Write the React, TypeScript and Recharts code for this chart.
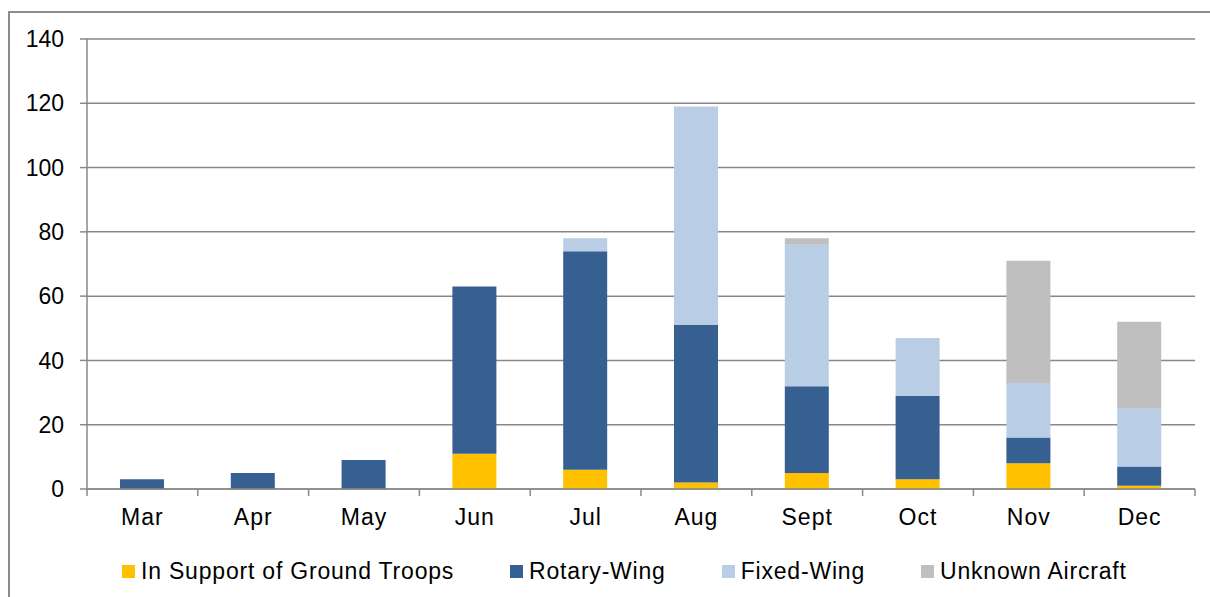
import React from 'react';
import { BarChart, Bar, XAxis, YAxis, CartesianGrid, Legend } from 'recharts';

const months = ['Mar', 'Apr', 'May', 'Jun', 'Jul', 'Aug', 'Sept', 'Oct', 'Nov', 'Dec'];
const groundSupport = [0, 0, 0, 11, 6, 2, 5, 3, 8, 1];
const rotaryWing = [3, 5, 9, 52, 68, 49, 27, 26, 8, 6];
const fixedWing = [0, 0, 0, 0, 4, 68, 44, 18, 17, 18];
const unknownAircraft = [0, 0, 0, 0, 0, 0, 2, 0, 38, 27];
const yTicks = [0, 20, 40, 60, 80, 100, 120, 140];

const seriesKeys = ['ground', 'rotary', 'fixed', 'unknown'];
const seriesNames = ['In Support of Ground Troops', 'Rotary-Wing', 'Fixed-Wing', 'Unknown Aircraft'];
const seriesColors = ['#FFC000', '#376092', '#B9CDE5', '#BFBFBF'];

const data = months.map((m, i) => ({
  month: m,
  ground: groundSupport[i],
  rotary: rotaryWing[i],
  fixed: fixedWing[i],
  unknown: unknownAircraft[i],
}));

const FONT = '"Liberation Sans", Arial, sans-serif';
const AXIS = '#888888';
const FS = 23;

const XTick = (props: any) => {
  const { x, y, payload, index, visibleTicksCount } = props;
  const half = payload && payload.offset ? payload.offset : 0;
  const axisY = y - 20;
  return (
    <g>
      <line x1={x - half} x2={x - half} y1={axisY} y2={axisY + 7} stroke={AXIS} strokeWidth={1.5} />
      {index === visibleTicksCount - 1 && (
        <line x1={x + half} x2={x + half} y1={axisY} y2={axisY + 7} stroke={AXIS} strokeWidth={1.5} />
      )}
      <text x={x} y={y} dy="0.71em" textAnchor="middle" fill="#000" fontSize={FS} fontFamily={FONT} letterSpacing={1}>
        {payload.value}
      </text>
    </g>
  );
};

const LegendContent = (props: any) => {
  const items = [...(props.payload || [])].sort(
    (a: any, b: any) => seriesNames.indexOf(a.value) - seriesNames.indexOf(b.value)
  );
  return (
    <div style={{ display: 'flex', alignItems: 'center', height: 40, paddingLeft: 112, fontFamily: FONT, fontSize: FS, color: '#000' }}>
      {items.map((it: any, i: number) => (
        <div key={i} style={{ display: 'flex', alignItems: 'center', marginRight: 56 }}>
          <span style={{ display: 'inline-block', width: 13, height: 13, background: it.color, marginRight: 6 }} />
          <span style={{ whiteSpace: 'nowrap', letterSpacing: 0.8 }}>{it.value}</span>
        </div>
      ))}
    </div>
  );
};

export default function App() {
  return (
    <div
      style={{
        position: 'fixed',
        left: 8,
        top: 11,
        width: 1200,
        height: 584,
        borderTop: '2px solid #8c8c8c',
        borderLeft: '2px solid #8c8c8c',
        background: '#fff',
      }}
    >
      <BarChart width={1200} height={584} data={data} margin={{ top: 26, right: 15, left: 0, bottom: 18 }}>
        <CartesianGrid vertical={false} stroke={AXIS} strokeWidth={1.5} />
        <XAxis
          dataKey="month"
          tickLine={false}
          axisLine={{ stroke: AXIS, strokeWidth: 1.5 }}
          tickSize={7}
          tickMargin={13}
          height={50}
          interval={0}
          tick={<XTick />}
        />
        <YAxis
          domain={[0, 140]}
          ticks={yTicks}
          width={77}
          tickSize={7}
          tickMargin={16}
          tickLine={{ stroke: AXIS, strokeWidth: 1.5 }}
          axisLine={{ stroke: AXIS, strokeWidth: 1.5 }}
          tick={{ fill: '#000', fontSize: FS, fontFamily: FONT }}
        />
        <Legend
          verticalAlign="bottom"
          wrapperStyle={{ top: 538, left: 0, width: 1200 }}
          content={<LegendContent />}
        />
        {seriesKeys.map((k, i) => (
          <Bar
            key={k}
            dataKey={k}
            name={seriesNames[i]}
            stackId="a"
            fill={seriesColors[i]}
            barSize={44}
            isAnimationActive={false}
          />
        ))}
      </BarChart>
    </div>
  );
}
